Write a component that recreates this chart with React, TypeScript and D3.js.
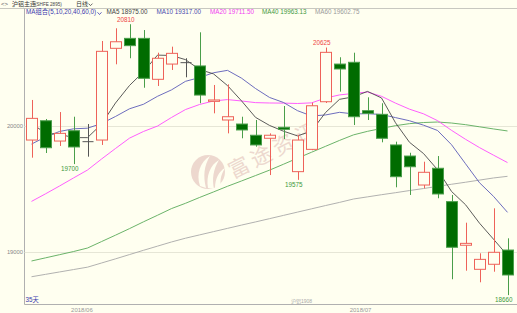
import React from "react";
import * as d3 from "d3";

// Daily K-line of 沪铝主连, 35 trading days
const opens = [19891, 20044, 19883, 19965, 19878, 19891, 20619, 20698, 20698, 20373, 20494, 20505, 20479, 20198, 20050, 20018, 19929, 19905, 19992, 19640, 19817, 20195, 20494, 20508, 20124, 20095, 19852, 19764, 19534, 19667, 19402, 19056, 18865, 18905, 19018];
const highs = [20209, 20058, 20113, 20076, 20018, 20677, 20778, 20810, 20764, 20584, 20632, 20540, 20746, 20328, 20333, 20076, 20050, 19944, 20161, 19931, 20187, 20625, 20548, 20584, 20230, 20183, 19878, 19790, 19719, 19764, 19455, 19235, 18992, 19349, 19111];
const lows = [19751, 19788, 19844, 19700, 19759, 19852, 20492, 20540, 20306, 20320, 20447, 20389, 20183, 20103, 19944, 19905, 19838, 19613, 19899, 19575, 19810, 20185, 20275, 20010, 20050, 19873, 19516, 19455, 19508, 19429, 18786, 18854, 18762, 18846, 18660];
const closes = [20063, 19830, 19944, 19836, 19878, 20595, 20671, 20640, 20381, 20540, 20579, 20505, 20248, 20209, 20076, 19971, 19852, 19929, 19976, 19891, 20163, 20587, 20455, 20076, 20103, 19905, 19600, 19679, 19635, 19463, 19040, 19071, 18944, 19000, 18820];

// Moving averages
const ma5 = [20024, 19944, 19937, 19910, 19910, 20017, 20185, 20324, 20433, 20565, 20562, 20529, 20451, 20416, 20323, 20202, 20071, 20007, 19961, 19924, 19962, 20109, 20214, 20234, 20277, 20225, 20028, 19873, 19784, 19656, 19483, 19378, 19231, 19104, 18975];
const ma10 = [19859, 19915, 19959, 19980, 19985, 20022, 20078, 20139, 20175, 20238, 20289, 20357, 20387, 20425, 20444, 20382, 20300, 20229, 20189, 20124, 20082, 20090, 20111, 20098, 20100, 20094, 20069, 20044, 20009, 19967, 19854, 19703, 19552, 19444, 19317];
const ma20 = [19404, 19464, 19526, 19590, 19653, 19740, 19824, 19906, 19959, 20002, 20070, 20133, 20173, 20201, 20212, 20201, 20188, 20185, 20184, 20181, 20186, 20224, 20249, 20261, 20272, 20238, 20184, 20136, 20099, 20045, 19968, 19897, 19831, 19771, 19712];
const ma40 = [18931, 18956, 18981, 19006, 19034, 19085, 19136, 19188, 19242, 19294, 19347, 19389, 19435, 19479, 19524, 19566, 19609, 19652, 19699, 19747, 19794, 19841, 19888, 19932, 19960, 19983, 20005, 20021, 20030, 20034, 20026, 20013, 19996, 19979, 19963];
const ma60 = [18806, 18825, 18844, 18863, 18882, 18915, 18948, 18982, 19016, 19049, 19082, 19112, 19138, 19164, 19190, 19216, 19241, 19267, 19293, 19319, 19345, 19371, 19396, 19423, 19440, 19457, 19473, 19490, 19506, 19523, 19540, 19556, 19573, 19590, 19603];

const yTicks = [19000, 20000];
const monthLabels = [
  { label: "2018/06", at: 3.6 },
  { label: "2018/07", at: 23.5 },
];
const maLegend = [
  { name: "MA5", value: "18975.00", color: "#444444", x: 106.5 },
  { name: "MA10", value: "19317.00", color: "#4a4aae", x: 156.5 },
  { name: "MA20", value: "19711.50", color: "#f03cf0", x: 210 },
  { name: "MA40", value: "19963.13", color: "#3f993f", x: 262 },
  { name: "MA60", value: "19602.75", color: "#9a9a9a", x: 315 },
];
const maSeries = [
  { values: ma60, color: "#a8a8a8" },
  { values: ma40, color: "#5aaa5a" },
  { values: ma20, color: "#ff4cff" },
  { values: ma10, color: "#5c5cb8" },
  { values: ma5, color: "#4a4a4a" },
];
// high / low callouts: [candle index, value, "high" | "low"]
const extremes: [number, number, string][] = [
  [7, 20810, "high"],
  [21, 20625, "high"],
  [3, 19700, "low"],
  [19, 19575, "low"],
  [34, 18660, "low"],
];

const W = 517;
const H = 313;
const left = 24.5;
const top = 8.5;
const bottom = 304.5;
const FONT = "'Liberation Sans', 'Noto Sans CJK SC', sans-serif";
const BG = "#fffff0";

const RED = "#ee6259";
const GREEN_FILL = "#006c00";
const GREEN_LINE = "#4a9e4a";
const FLAT = "#555555";

export default function App() {
  const idx = d3.range(closes.length);
  const x = d3
    .scaleBand<number>()
    .domain(idx)
    .range([left, left + 14 * closes.length])
    .paddingInner(1 / 7)
    .paddingOuter(1 / 14);
  const y = d3.scaleLinear().domain([19000, 20000]).range([252.3, 126.3]);
  const cx = (i: number) => (x(i) as number) + x.bandwidth() / 2;

  const line = d3
    .line<number>()
    .x((_, i) => cx(i))
    .y((d) => y(d))
    .curve(d3.curveLinear);

  return (
    <svg
      width={W}
      height={H}
      style={{ position: "fixed", left: 0, top: 0, background: BG }}
      fontFamily={FONT}
    >
      <rect x={0} y={0} width={W} height={H} fill={BG} />

      {/* header */}
      <text x={1} y={6.3} fontSize={6} fill="#555">
        {"<>"}
      </text>
      <text x={12} y={6.3} fontSize={6} fill="#333">
        沪铝主连
      </text>
      <text x={35} y={6.2} fontSize={4.6} fill="#444">
        (SHFE 2895)
      </text>
      <text x={76} y={6.3} fontSize={6} fill="#333">
        日线
      </text>
      <path d="M88.5,3.6 L90.5,5.6 L92.5,3.6" fill="none" stroke="#444" strokeWidth={0.8} />

      <line x1={0} x2={W} y1={top} y2={top} stroke="#c8c8c0" />
      <line x1={left} x2={left} y1={top} y2={bottom} stroke="#b0b0b0" />
      <line x1={left} x2={W} y1={bottom} y2={bottom} stroke="#b0b0b0" />

      {/* MA legend */}
      <text x={26} y={14.4} fontSize={6.3} fill="#3a3aae">
        MA组合(5,10,20,40,60,0)
      </text>
      <path d="M97.5,12.3 L99.5,14.5 L101.5,12.3" fill="none" stroke="#3a3aae" strokeWidth={0.8} />
      {maLegend.map((m) => (
        <text key={m.name} x={m.x} y={14.4} fontSize={6.3} fill={m.color}>
          {m.name} {m.value}
        </text>
      ))}

      {/* grid + y labels */}
      {yTicks.map((t) => (
        <g key={t}>
          <line x1={left} x2={W} y1={Math.round(y(t)) + 0.5} y2={Math.round(y(t)) + 0.5} stroke="#e6e6d6" />
          <text x={23} y={y(t) + 2} fontSize={5.8} fill="#888" textAnchor="end">
            {t}
          </text>
        </g>
      ))}

      {/* watermark */}
      <g opacity={0.85}>
        <circle cx={208} cy={172} r={17} fill="#ead2c9" />
        <path d="M200,186 C196,174 200,162 210,156 C204,166 203,176 206,188 Z" fill={BG} />
        <path d="M208,188 C206,176 210,165 219,160 C213,170 212,179 214,189 Z" fill={BG} />
        <path d="M215,188 C215,179 219,171 225,168 C220,176 220,182 221,187 Z" fill={BG} />
        <text
          x={0}
          y={0}
          fontSize={21}
          letterSpacing={4}
          fill="#ead2c9"
          transform="translate(233,179) rotate(-27)"
          fontFamily="'Noto Sans CJK SC', sans-serif"
        >
          富途资讯
        </text>
      </g>

      {/* moving averages */}
      {maSeries.map((s, k) => (
        <path key={k} d={line(s.values) ?? ""} fill="none" stroke={s.color} strokeWidth={0.9} />
      ))}

      {/* candles */}
      {idx.map((i) => {
        const o = opens[i];
        const c = closes[i];
        const up = c > o;
        const flat = c === o;
        const color = flat ? FLAT : up ? RED : GREEN_LINE;
        const xm = Math.round(cx(i)) + 0.5;
        const x0 = Math.round(x(i) as number) + 0.5;
        const bw = Math.round(x.bandwidth()) - 1;
        const yt = y(Math.max(o, c));
        const yb = y(Math.min(o, c));
        const bh = Math.max(yb - yt, 1);
        return (
          <g key={i}>
            <line x1={xm} x2={xm} y1={y(highs[i])} y2={y(lows[i])} stroke={color} strokeWidth={1} />
            {flat ? (
              <line x1={x0} x2={x0 + bw} y1={yt} y2={yt} stroke={FLAT} strokeWidth={1} />
            ) : up ? (
              <rect x={x0} y={yt} width={bw} height={bh} fill={BG} stroke={RED} strokeWidth={1} />
            ) : (
              <rect x={x0} y={yt} width={bw} height={bh} fill={GREEN_FILL} stroke={color} strokeWidth={1} />
            )}
          </g>
        );
      })}

      {/* extremes */}
      {extremes.map(([i, v, kind]) => (
        <text
          key={i}
          x={cx(i) - 3.7}
          y={kind === "high" ? y(v) - 2.6 : y(v) + 6.8}
          fontSize={6.3}
          textAnchor="middle"
          fill={kind === "high" ? "#ee4444" : "#3d993d"}
        >
          {v}
        </text>
      ))}

      {/* footer */}
      <text x={25.5} y={301.5} fontSize={6.3} fill="#3a3aae">
        35天
      </text>
      <text x={291} y={303} fontSize={5} fill="#aaa">
        沪铝1908
      </text>
      {monthLabels.map((m) => (
        <text key={m.label} x={cx(0) + m.at * 14} y={311.5} fontSize={6} fill="#999" textAnchor="middle">
          {m.label}
        </text>
      ))}
    </svg>
  );
}
